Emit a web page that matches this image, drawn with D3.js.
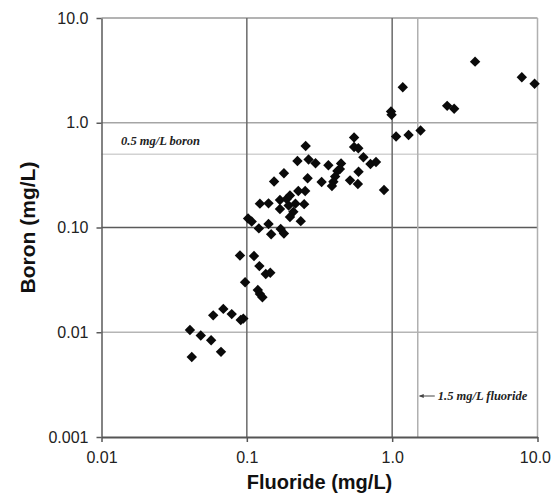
<!DOCTYPE html>
<html>
<head>
<meta charset="utf-8">
<script src="https://cdn.jsdelivr.net/npm/d3@7"></script>
<style>
  html, body { margin: 0; padding: 0; background: #fff; }
  svg { display: block; }
</style>
</head>
<body>
<svg id="chart" width="551" height="493"></svg>
<script>
// ---- data ----
const fluoride = [
  0.0406, 0.0482, 0.0568, 0.0664, 0.0418, 0.0587, 0.0689, 0.0787, 0.0908, 0.0946, 0.0897,
  0.112, 0.122, 0.135, 0.145, 0.0973, 0.119, 0.123, 0.128, 0.102, 0.108, 0.121, 0.141, 0.147, 0.171, 0.180,
  0.123, 0.141, 0.154, 0.180, 0.169, 0.188, 0.169, 0.194, 0.198, 0.216, 0.209, 0.198, 0.235, 0.226, 0.252, 0.248, 0.223, 0.266, 0.262, 0.254,
  0.297, 0.364, 0.445, 0.437, 0.327, 0.420, 0.405, 0.394, 0.385, 0.547, 0.547, 0.585, 0.634, 0.709, 0.774, 0.587, 0.513, 0.581, 0.879,
  0.982, 0.991, 1.064, 1.297, 1.568, 1.183, 2.39, 2.67, 3.72, 7.80, 9.55
];
const boron = [
  0.0105, 0.0093, 0.0084, 0.0065, 0.0058, 0.0145, 0.0167, 0.0149, 0.0131, 0.0135, 0.0541,
  0.0535, 0.0428, 0.0360, 0.0370, 0.0300, 0.0253, 0.0232, 0.0216, 0.122, 0.114, 0.098, 0.108, 0.0863, 0.0969, 0.0877,
  0.169, 0.170, 0.275, 0.329, 0.183, 0.187, 0.150, 0.162, 0.202, 0.169, 0.141, 0.126, 0.115, 0.223, 0.223, 0.167, 0.431, 0.446, 0.295, 0.600,
  0.410, 0.393, 0.408, 0.361, 0.272, 0.346, 0.306, 0.273, 0.249, 0.723, 0.586, 0.570, 0.468, 0.404, 0.422, 0.341, 0.282, 0.260, 0.228,
  1.28, 1.19, 0.740, 0.764, 0.843, 2.18, 1.45, 1.36, 3.83, 2.72, 2.36
];
const xTicks = [0.01, 0.1, 1, 10];
const xTickLabels = ["0.01", "0.1", "1.0", "10.0"];
const yTicks = [0.001, 0.01, 0.1, 1, 10];
const yTickLabels = ["0.001", "0.01", "0.10", "1.0", "10.0"];
const boronLimit = 0.5;
const fluorideLimit = 1.5;
const boronLimitLabel = "0.5 mg/L boron";
const fluorideLimitLabel = "1.5 mg/L fluoride";
const xTitle = "Fluoride (mg/L)";
const yTitle = "Boron (mg/L)";

// ---- layout ----
const svg = d3.select("#chart");
const L = 101.5, R = 537.5, T = 18, B = 437;
const x = d3.scaleLog().domain([0.01, 10]).range([L, R]);
const y = d3.scaleLog().domain([0.001, 10]).range([B, T]);

const g = svg.append("g");

// horizontal grid lines
const hLines = [
  {v: 10, c: "#9a9a9a", w: 1.5},
  {v: 1, c: "#a5a5a5", w: 1.5},
  {v: boronLimit, c: "#d2d2d2", w: 1.5},
  {v: 0.1, c: "#5a5a5a", w: 1.5},
  {v: 0.01, c: "#b5b5b5", w: 1.5}
];
g.selectAll("line.h").data(hLines).join("line")
  .attr("x1", L).attr("x2", R)
  .attr("y1", d => y(d.v)).attr("y2", d => y(d.v))
  .attr("stroke", d => d.c).attr("stroke-width", d => d.w);

// vertical grid lines
const vLines = [
  {v: 0.1, c: "#6a6a6a", w: 1.5},
  {v: 1, c: "#6a6a6a", w: 1.5},
  {v: fluorideLimit, c: "#b0b0b0", w: 1.5},
  {v: 10, c: "#b0b0b0", w: 1.5}
];
g.selectAll("line.v").data(vLines).join("line")
  .attr("y1", T).attr("y2", B)
  .attr("x1", d => x(d.v)).attr("x2", d => x(d.v))
  .attr("stroke", d => d.c).attr("stroke-width", d => d.w);

// axes
const yAxis = d3.axisLeft(y).tickValues(yTicks)
  .tickFormat((d, i) => yTickLabels[i]).tickSize(5).tickSizeOuter(0).tickPadding(8);
const ya = svg.append("g").attr("transform", `translate(${L},0)`).call(yAxis);
ya.select(".domain").attr("stroke", "#5a5a5a").attr("stroke-width", 1.5);
ya.selectAll(".tick line").attr("stroke", "#5a5a5a").attr("stroke-width", 1.5);
ya.selectAll(".tick text").attr("font-family", "Liberation Sans, Arial, sans-serif")
  .attr("font-size", 16).attr("fill", "#222");

const xAxis = d3.axisBottom(x).tickValues(xTicks)
  .tickFormat((d, i) => xTickLabels[i]).tickSize(5).tickSizeOuter(0).tickPadding(10);
const xa = svg.append("g").attr("transform", `translate(0,${B})`).call(xAxis);
xa.select(".domain").attr("stroke", "#555").attr("stroke-width", 2);
xa.selectAll(".tick line").attr("stroke", "#555").attr("stroke-width", 1.5);
xa.selectAll(".tick text").attr("font-family", "Liberation Sans, Arial, sans-serif")
  .attr("font-size", 16).attr("fill", "#222");
// keep the last label inside the page
xa.selectAll(".tick text").filter((d, i) => i === xTicks.length - 1)
  .attr("text-anchor", "end").attr("dx", 13);

// axis titles
svg.append("text").attr("x", (L + R) / 2).attr("y", 489)
  .attr("text-anchor", "middle").attr("font-family", "Liberation Sans, Arial, sans-serif")
  .attr("font-weight", "bold").attr("font-size", 20).attr("fill", "#111").text(xTitle);
svg.append("text").attr("transform", `translate(35,${(T + B) / 2}) rotate(-90)`)
  .attr("text-anchor", "middle").attr("font-family", "Liberation Sans, Arial, sans-serif")
  .attr("font-weight", "bold").attr("font-size", 21).attr("fill", "#111").text(yTitle);

// annotations
svg.append("text").attr("x", 121).attr("y", 145)
  .attr("font-family", "Liberation Serif, Times New Roman, serif")
  .attr("font-style", "italic").attr("font-weight", "bold").attr("font-size", 12.5)
  .attr("fill", "#222").text(boronLimitLabel);
const ax = x(fluorideLimit);
svg.append("line").attr("x1", ax + 2).attr("x2", ax + 17).attr("y1", 396).attr("y2", 396)
  .attr("stroke", "#444").attr("stroke-width", 1);
svg.append("path").attr("d", `M${ax + 1},396 L${ax + 6},394 L${ax + 6},398 Z`).attr("fill", "#444");
svg.append("text").attr("x", ax + 20).attr("y", 400)
  .attr("font-family", "Liberation Serif, Times New Roman, serif")
  .attr("font-style", "italic").attr("font-weight", "bold").attr("font-size", 12.5)
  .attr("fill", "#222").text(fluorideLimitLabel);

// points
const pts = fluoride.map((f, i) => ({f, b: boron[i]}));
const s = 5.2;
svg.append("g").selectAll("path").data(pts).join("path")
  .attr("transform", d => `translate(${x(d.f)},${y(d.b)})`)
  .attr("d", `M0,${-s} L${s},0 L0,${s} L${-s},0 Z`)
  .attr("fill", "#0a0a0a");
</script>
</body>
</html>
